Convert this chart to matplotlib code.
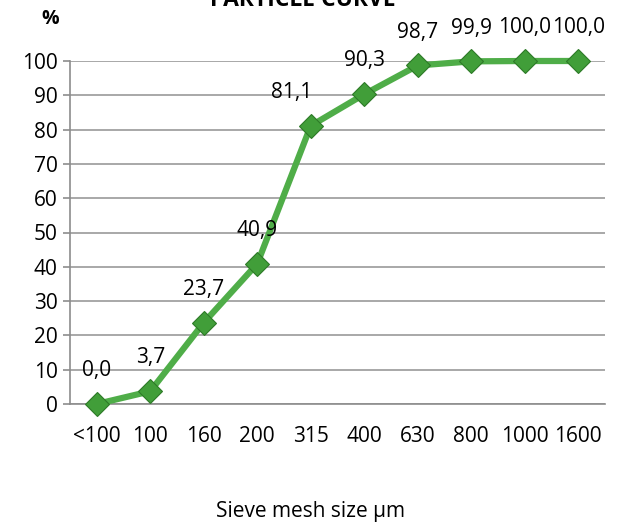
import numpy as np
import matplotlib.pyplot as plt

plt.rcParams['font.family'] = ['Open Sans', 'DejaVu Sans']

sizes = ['<100', '100', '160', '200', '315', '400', '630', '800', '1000', '1600']
passing = [0.0, 3.7, 23.7, 40.9, 81.1, 90.3, 98.7, 99.9, 100.0, 100.0]
labels = ['0,0', '3,7', '23,7', '40,9', '81,1', '90,3', '98,7', '99,9', '100,0', '100,0']

fig = plt.figure(figsize=(6.18, 5.22), dpi=100)
ax = fig.add_axes([70 / 618, 118 / 522, 535 / 618, 343 / 522])

x = np.arange(len(sizes))
ax.plot(x, passing, color='#4fad48', lw=4.5, marker='D', markersize=12,
        markerfacecolor='#419e39', markeredgecolor='#2d7a27', markeredgewidth=0.8,
        clip_on=False, zorder=3)

for i, (v, lab) in enumerate(zip(passing, labels)):
    dx = -14 if lab == '81,1' else 0
    ax.annotate(lab, (i, v), xytext=(dx, 24), textcoords='offset points',
                ha='center', va='center', fontsize=15)

ax.set_xlim(-0.5, len(sizes) - 0.5)
ax.set_ylim(0, 100)
ax.set_yticks(range(0, 101, 10))
ax.set_xticks(x)
ax.set_xticklabels(sizes)
ax.tick_params(axis='y', length=5, color='#8c8c8c', width=1.2, labelsize=15, pad=4)
ax.tick_params(axis='x', length=0, labelsize=15, pad=16)
ax.grid(axis='y', color='#9a9a9a', lw=1.2)
ax.set_axisbelow(True)
for s in ['top', 'right']:
    ax.spines[s].set_visible(False)
ax.spines['left'].set_color('#8c8c8c')
ax.spines['bottom'].set_color('#8c8c8c')
ax.spines['left'].set_linewidth(1.2)
ax.spines['bottom'].set_linewidth(1.2)

fig.text(0.49, 1.0, 'PARTICLE CURVE', ha='center', va='center', fontsize=16.5, fontweight='bold')
fig.text(50 / 618, 1 - 19 / 522, '%', ha='center', va='center', fontsize=14, fontweight='bold')
fig.text(310 / 618, 1 - 511 / 522, 'Sieve mesh size µm', ha='center', va='center', fontsize=15)

fig.savefig('out.png', dpi=100)
